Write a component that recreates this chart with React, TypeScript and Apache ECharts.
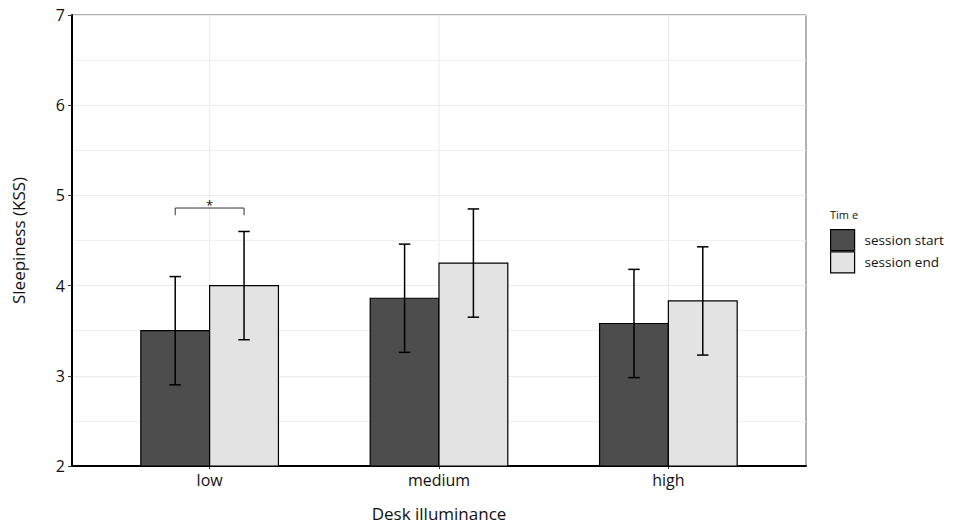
import React, { useEffect, useRef } from "react";
import * as echarts from "echarts";

const categories = ["low", "medium", "high"];
const seriesNames = ["session start", "session end"];
const seriesColors = ["#4d4d4d", "#e3e3e3"];
const startMeans = [3.5, 3.86, 3.58];
const startLower = [2.9, 3.26, 2.98];
const startUpper = [4.1, 4.46, 4.18];
const endMeans = [4.0, 4.25, 3.83];
const endLower = [3.4, 3.65, 3.23];
const endUpper = [4.6, 4.85, 4.43];
const sigCategory = [1];
const sigY = [4.86];
const sigLabel = ["*"];
const yMin = 2;
const yMax = 7;

const FONT = "Open Sans";

function barSeries(idx: number, means: number[], lo: number[], hi: number[]) {
  return {
    type: "custom",
    name: seriesNames[idx],
    itemStyle: { color: seriesColors[idx], borderColor: "#000", borderWidth: 1 },
    encode: { x: 0, y: 1 },
    z: 3,
    data: categories.map((_, i) => [i + 1, means[i], lo[i], hi[i]]),
    renderItem: (params: any, api: any) => {
      const x = api.value(0);
      const mean = api.value(1);
      const lo2 = api.value(2);
      const hi2 = api.value(3);
      const off = idx === 0 ? -0.3 : 0;
      const tl = api.coord([x + off, mean]);
      const br = api.coord([x + off + 0.3, yMin]);
      const cx = x + off + 0.15;
      const pHi = api.coord([cx, hi2]);
      const pLo = api.coord([cx, lo2]);
      const capL = api.coord([cx - 0.025, hi2]);
      const capR = api.coord([cx + 0.025, hi2]);
      const capW = (capR[0] - capL[0]) / 2;
      const ls = { stroke: "#000", lineWidth: 1.5 };
      return {
        type: "group",
        children: [
          {
            type: "rect",
            shape: { x: tl[0], y: tl[1], width: br[0] - tl[0], height: br[1] - tl[1] },
            style: { fill: seriesColors[idx], stroke: "#000", lineWidth: 1.2 },
          },
          { type: "line", shape: { x1: pHi[0], y1: pHi[1], x2: pLo[0], y2: pLo[1] }, style: ls },
          { type: "line", shape: { x1: pHi[0] - capW, y1: pHi[1], x2: pHi[0] + capW, y2: pHi[1] }, style: ls },
          { type: "line", shape: { x1: pLo[0] - capW, y1: pLo[1], x2: pLo[0] + capW, y2: pLo[1] }, style: ls },
        ],
      };
    },
  };
}

export default function App() {
  const ref = useRef<HTMLDivElement>(null);
  useEffect(() => {
    if (!ref.current) return;
    const chart = echarts.init(ref.current, undefined, { renderer: "svg" });
    const option: any = {
      animation: false,
      backgroundColor: "#fff",
      textStyle: { fontFamily: FONT },
      grid: {
        left: 72,
        right: 154,
        top: 15,
        bottom: 59,
        show: true,
        borderColor: "#666",
        borderWidth: 1,
        backgroundColor: "#fff",
        containLabel: false,
        outerBoundsMode: "none",
      },
      legend: {
        orient: "vertical",
        left: 830,
        top: 229,
        data: seriesNames,
        icon: "rect",
        itemWidth: 24,
        itemHeight: 21,
        itemGap: 0,
        padding: 0,
        itemStyle: { borderColor: "#000", borderWidth: 1.2 },
        textStyle: { fontFamily: FONT, fontSize: 13.5, color: "#111", padding: [0, 0, 0, 5] },
        selectedMode: false,
      },
      graphic: [
        {
          type: "text",
          left: 830,
          top: 209,
          style: { text: "Tim e", fontFamily: FONT, fontSize: 11, fill: "#111" },
        },
      ],
      xAxis: {
        type: "value",
        min: 0.4,
        max: 3.6,
        name: "Desk illuminance",
        nameLocation: "middle",
        nameGap: 39,
        nameTextStyle: { fontFamily: FONT, fontSize: 17, color: "#111" },
        axisLine: { show: true, onZero: false, lineStyle: { color: "#000", width: 2 } },
        axisTick: { show: true, customValues: [1, 2, 3], length: 3, lineStyle: { color: "#333" } },
        axisLabel: {
          customValues: [1, 2, 3],
          formatter: (v: number) => categories[Math.round(v) - 1] ?? "",
          fontFamily: FONT,
          fontSize: 16,
          color: "#111",
          margin: 6,
        },
        splitLine: { show: false },
      },
      yAxis: {
        type: "value",
        min: yMin,
        max: yMax,
        interval: 1,
        name: "Sleepiness (KSS)",
        nameLocation: "middle",
        nameGap: 45,
        nameRotate: 90,
        nameTextStyle: { fontFamily: FONT, fontSize: 17, color: "#111" },
        axisLine: { show: true, onZero: false, lineStyle: { color: "#000", width: 2 } },
        axisTick: { show: true, length: 4, lineStyle: { color: "#333" } },
        axisLabel: { fontFamily: FONT, fontSize: 16, color: "#111", margin: 7 },
        splitLine: { show: true, lineStyle: { color: "#ebebeb", width: 1 } },
        minorTick: { show: false, splitNumber: 2 },
        minorSplitLine: { show: true, lineStyle: { color: "#f0f0f0", width: 1 } },
      },
      series: [
        {
          type: "custom",
          name: "vgrid",
          silent: true,
          z: 1,
          encode: { x: 0 },
          data: categories.map((_, i) => [i + 1]),
          renderItem: (params: any, api: any) => {
            const a = api.coord([api.value(0), yMin]);
            const b = api.coord([api.value(0), yMax]);
            return {
              type: "line",
              shape: { x1: a[0], y1: a[1], x2: b[0], y2: b[1] },
              style: { stroke: "#ebebeb", lineWidth: 1 },
            };
          },
        },
        barSeries(0, startMeans, startLower, startUpper),
        barSeries(1, endMeans, endLower, endUpper),
        {
          type: "custom",
          name: "sig",
          silent: true,
          z: 4,
          encode: { x: 0, y: 1 },
          data: sigCategory.map((c, i) => [c, sigY[i]]),
          renderItem: (params: any, api: any) => {
            const c = api.value(0);
            const y = api.value(1);
            const l = api.coord([c - 0.15, y]);
            const r = api.coord([c + 0.15, y]);
            const lb = api.coord([c - 0.15, y - 0.08]);
            const rb = api.coord([c + 0.15, y - 0.08]);
            const st = { stroke: "#333", lineWidth: 1, fill: "none" };
            return {
              type: "group",
              children: [
                { type: "polyline", shape: { points: [lb, l, r, rb] }, style: st },
                {
                  type: "text",
                  x: (l[0] + r[0]) / 2,
                  y: l[1] + 3,
                  style: {
                    text: sigLabel[params.dataIndex],
                    fontFamily: FONT,
                    fontSize: 13,
                    fill: "#111",
                    align: "center",
                    verticalAlign: "bottom",
                  },
                },
              ],
            };
          },
        },
      ],
    };
    chart.setOption(option);
    return () => chart.dispose();
  }, []);
  return (
    <div
      ref={ref}
      style={{ position: "fixed", left: 0, top: 0, width: 960, height: 525 }}
    />
  );
}
